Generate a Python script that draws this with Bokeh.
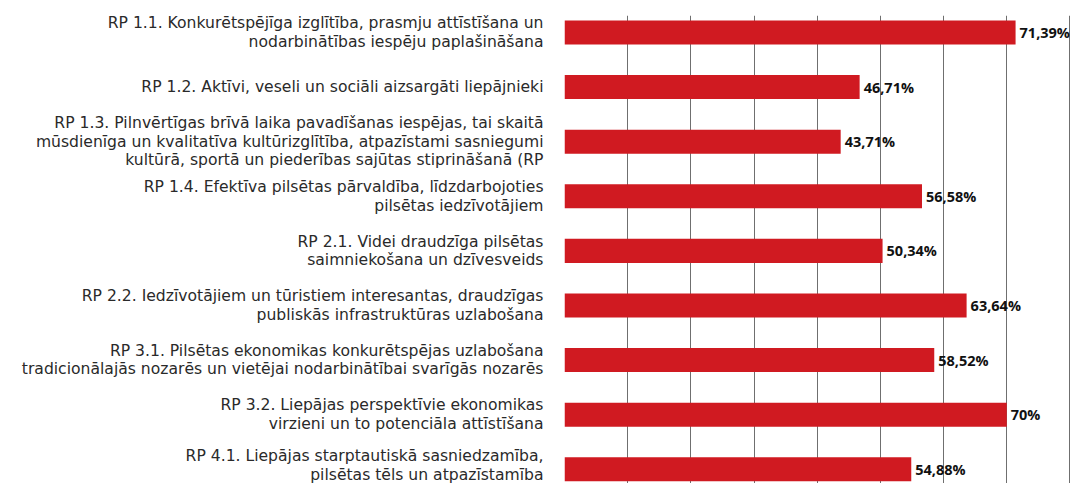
from bokeh.plotting import figure
from bokeh.models import Range1d, FixedTicker, ColumnDataSource
from bokeh.core.properties import value
from bokeh.embed import file_html
from bokeh.resources import INLINE

categories = [
    "RP 1.1. Konkurētspējīga izglītība, prasmju attīstīšana un\nnodarbinātības iespēju paplašināšana",
    "RP 1.2. Aktīvi, veseli un sociāli aizsargāti liepājnieki",
    "RP 1.3. Pilnvērtīgas brīvā laika pavadīšanas iespējas, tai skaitā\nmūsdienīga un kvalitatīva kultūrizglītība, atpazīstami sasniegumi\nkultūrā, sportā un piederības sajūtas stiprināšanā (RP",
    "RP 1.4. Efektīva pilsētas pārvaldība, līdzdarbojoties\npilsētas iedzīvotājiem",
    "RP 2.1. Videi draudzīga pilsētas\nsaimniekošana un dzīvesveids",
    "RP 2.2. Iedzīvotājiem un tūristiem interesantas, draudzīgas\npubliskās infrastruktūras uzlabošana",
    "RP 3.1. Pilsētas ekonomikas konkurētspējas uzlabošana\ntradicionālajās nozarēs un vietējai nodarbinātībai svarīgās nozarēs",
    "RP 3.2. Liepājas perspektīvie ekonomikas\nvirzieni un to potenciāla attīstīšana",
    "RP 4.1. Liepājas starptautiskā sasniedzamība,\npilsētas tēls un atpazīstamība",
]
values = [71.39, 46.71, 43.71, 56.58, 50.34, 63.64, 58.52, 70.0, 54.88]
value_labels = ["71,39%", "46,71%", "43,71%", "56,58%", "50,34%", "63,64%", "58,52%", "70%", "54,88%"]
grid_ticks = [0, 10, 20, 30, 40, 50, 60, 70, 80]

idx = list(range(len(categories)))
src = ColumnDataSource(dict(y=idx, v=values, lab=value_labels))

p = figure(width=1072, height=483, output_backend="svg", toolbar_location=None,
           x_range=Range1d(0, 80.4), y_range=Range1d(8.26, -0.31))
p.min_border_left = 564
p.min_border_right = 0
p.min_border_top = 15
p.min_border_bottom = 0
p.outline_line_color = None
p.background_fill_color = "white"
p.border_fill_color = "white"

p.hbar(y="y", right="v", left=0, height=0.44, source=src,
       fill_color="#d01a21", line_color=None)
p.text(x="v", y="y", text="lab", source=src, x_offset=4,
       text_baseline="middle", text_align="left",
       text_font=value("Open Sans"), text_font_style="bold",
       text_font_size="14.5px", text_color="#111111")

p.xaxis.visible = False
p.xgrid.ticker = FixedTicker(ticks=grid_ticks)
p.xgrid.grid_line_color = "#6f6f6f"
p.xgrid.grid_line_width = 1
p.ygrid.grid_line_color = None

ya = p.yaxis[0]
ya.ticker = FixedTicker(ticks=idx)
ya.major_label_overrides = {i: c for i, c in enumerate(categories)}
ya.axis_line_color = None
ya.major_tick_line_color = None
ya.minor_tick_line_color = None
ya.major_label_standoff = 15
ya.major_label_text_font = "DejaVu Sans"
ya.major_label_text_font_size = "15.6px"
ya.major_label_text_line_height = 1.03
ya.major_label_text_color = "#2a2a2a"
ya.major_label_text_align = "right"

open("out.html", "w").write(file_html(p, INLINE))
